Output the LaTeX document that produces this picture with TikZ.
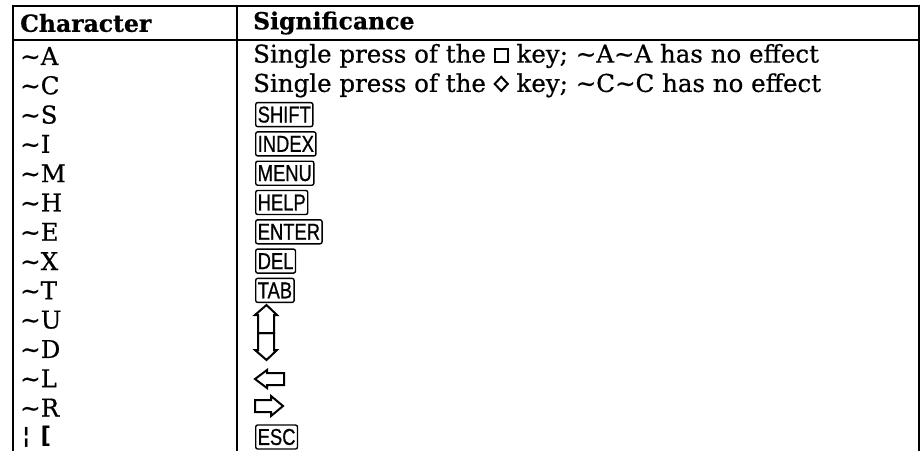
\documentclass[tikz,border=0pt]{standalone}
\usepackage{fontspec}
\usepackage{graphicx}
\setmainfont{DejaVu Serif}[FakeBold=0.6]
\newfontfamily\keyfam{Liberation Sans}[FakeBold=0.8]
\newfontfamily\barfam{DejaVu Sans}
\newcommand\tld{\textasciitilde}
\newcommand\kc[1]{\scalebox{0.8}[1]{#1}}
\newcommand\sqglyph{\tikz[baseline=0pt, x=1pt, y=1pt]\draw[line width=2pt] (1,1) rectangle (14,14);}
\newcommand\dmglyph{\tikz[baseline=0pt, x=1pt, y=1pt]\draw[line width=2pt, line join=miter] (7.5,1) -- (14,8) -- (7.5,15) -- (1,8) -- cycle;}
\tikzset{
  rule/.style={line width=2.3pt},
  colrule/.style={line width=2.8pt},
  cell/.style={anchor=west, inner sep=0pt, font=\fontsize{24.5}{24.5}\selectfont},
  head/.style={anchor=west, inner sep=0pt, font=\fontsize{23.5}{23.5}\selectfont\bfseries},
  keycap/.style={draw, line width=1.4pt, rounded corners=2pt, anchor=west,
     inner xsep=2pt, inner ysep=0pt, minimum height=24pt,
     font=\keyfam\fontsize{23}{23}\selectfont},
  hollow/.style={line width=2pt, line join=miter}
}
\begin{document}
\begin{tikzpicture}[x=1pt,y=-1pt]
\useasboundingbox (0,0) rectangle (922,451);
% rules
\draw[rule] (13,451) -- (13,6) -- (919,6) -- (919,451);
\draw[rule] (13,40) -- (919,40);
\draw[colrule] (237,6) -- (237,451);
% header
\node[head] (h1) at (20,23) {Character};
\node[head] (h2) at (253,23) {Significance};
% column 1
\node[cell] (c1) at (20,56) {\tld A};
\node[cell] (c2) at (20,85.3) {\tld C};
\node[cell] (c3) at (20,114.6) {\tld S};
\node[cell] (c4) at (20,143.9) {\tld I};
\node[cell] (c5) at (20,173.2) {\tld M};
\node[cell] (c6) at (20,202.5) {\tld H};
\node[cell] (c7) at (20,231.8) {\tld E};
\node[cell] (c8) at (20,261.1) {\tld X};
\node[cell] (c9) at (20,290.4) {\tld T};
\node[cell] (c10) at (20,319.7) {\tld U};
\node[cell] (c11) at (20,349) {\tld D};
\node[cell] (c12) at (20,378.3) {\tld L};
\node[cell] (c13) at (20,407.6) {\tld R};
\node[cell, font=\barfam\fontsize{23}{23}\selectfont\bfseries] (c14) at (22,437) {¦\hspace{10pt}[};
% column 2
\node[cell] (s1) at (253,56) {Single press of the \sqglyph{} key; \tld A\tld A has no effect};
\node[cell] (s2) at (253,85.3) {Single press of the \dmglyph{} key; \tld C\tld C has no effect};
\node[keycap] (k1) at (255,114.6) {\kc{SHIFT}};
\node[keycap] (k2) at (255,143.9) {\kc{INDEX}};
\node[keycap] (k3) at (255,173.2) {\kc{MENU}};
\node[keycap] (k4) at (255,202.5) {\kc{HELP}};
\node[keycap] (k5) at (255,231.8) {\kc{ENTER}};
\node[keycap] (k6) at (255,261.1) {\kc{DEL}};
\node[keycap] (k7) at (255,290.4) {\kc{TAB}};
\node[keycap] (k14) at (255,437) {\kc{ESC}};
% up arrow
\draw[hollow] (266.5,305) -- (277,315) -- (274,315) -- (274,333) -- (258,333) -- (258,315) -- (255,315) -- cycle;
% down arrow
\draw[hollow] (266.5,360) -- (277,350) -- (274,350) -- (274,333) -- (258,333) -- (258,350) -- (255,350) -- cycle;
% left arrow
\draw[hollow] (255,379) -- (267,370) -- (267,373) -- (284,373) -- (284,385) -- (267,385) -- (267,388) -- cycle;
% right arrow
\draw[hollow] (283,406) -- (271,396) -- (271,400) -- (255,400) -- (255,412) -- (271,412) -- (271,416) -- cycle;
\end{tikzpicture}
\end{document}
